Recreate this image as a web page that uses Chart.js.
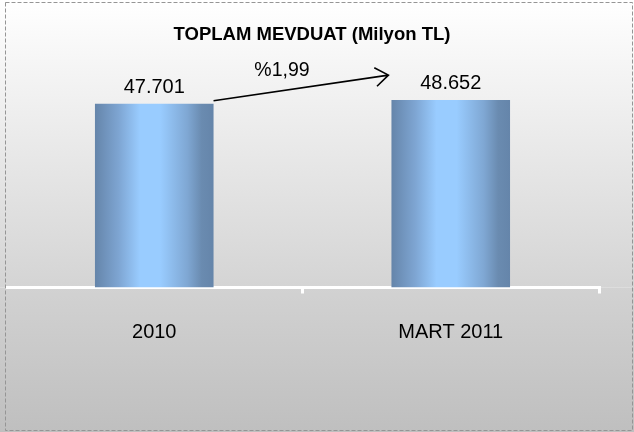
<!DOCTYPE html>
<html>
<head>
<meta charset="utf-8">
<script src="https://cdn.jsdelivr.net/npm/chart.js@4"></script>
<style>
  html, body { margin: 0; padding: 0; background: #fff; }
  #wrap { width: 634px; height: 432px; }
</style>
</head>
<body>
<div id="wrap"><canvas id="bar-chart" width="634" height="432"></canvas></div>
<script>
// chart data
const categories = ['2010', 'MART 2011'];
const deposits = [47701, 48652];
const changeLabel = '%1,99';
const chartTitle = 'TOPLAM MEVDUAT (Milyon TL)';

const sans = "'Liberation Sans', Arial, sans-serif";

// turkish thousands separator
function fmt(v) {
    return String(v).replace(/\B(?=(\d{3})+(?!\d))/g, '.');
}

// horizontal gradient for each bar, from the x scale
function barGradient(context) {
    const chart = context.chart;
    const xs = chart.scales.x;
    if (!xs || !chart.chartArea) return '#80aad8';
    const center = xs.getPixelForValue(context.dataIndex);
    const w = (xs.width / categories.length) * 0.4;
    const g = chart.ctx.createLinearGradient(center - w / 2, 0, center + w / 2, 0);
    g.addColorStop(0, '#6585aa');
    g.addColorStop(0.2, '#7ea5d2');
    g.addColorStop(0.38, '#99ccff');
    g.addColorStop(0.55, '#99ccff');
    g.addColorStop(0.78, '#7fa7d3');
    g.addColorStop(0.9, '#6a8bb0');
    g.addColorStop(1, '#6585aa');
    return g;
}

// background wall + floor
const backdrop = {
    id: 'backdrop',
    beforeDraw(chart) {
        const { ctx, width, height, chartArea } = chart;
        const b = chartArea.bottom;
        ctx.save();
        let g = ctx.createLinearGradient(0, 0, 0, b);
        g.addColorStop(0, '#ffffff');
        g.addColorStop(1, '#d4d4d4');
        ctx.fillStyle = g;
        ctx.fillRect(0, 0, width, b);
        g = ctx.createLinearGradient(0, b, 0, height);
        g.addColorStop(0, '#d2d2d2');
        g.addColorStop(1, '#bfbfbf');
        ctx.fillStyle = g;
        ctx.fillRect(0, b, width, height - b);
        ctx.restore();
    },
    afterDraw(chart) {
        const ctx = chart.ctx;
        ctx.save();
        ctx.strokeStyle = '#959595';
        ctx.lineWidth = 1;
        ctx.setLineDash([4, 2]);
        ctx.strokeRect(5.5, 2.5, 627, 428);
        ctx.restore();
    }
};

// value labels and the growth arrow
const annotate = {
    id: 'annotate',
    afterDatasetsDraw(chart) {
        const ctx = chart.ctx;
        const bars = chart.getDatasetMeta(0).data;
        ctx.save();
        ctx.fillStyle = '#000';
        ctx.font = '20px ' + sans;
        ctx.textAlign = 'center';
        ctx.textBaseline = 'alphabetic';
        bars.forEach((bar, i) => {
            ctx.fillText(fmt(deposits[i]), bar.x, bar.y - 11);
        });

        const a = bars[0], c = bars[1];
        const x1 = a.x + a.width / 2, y1 = a.y - 3;
        const x2 = c.x - c.width / 2 - 3, y2 = c.y - 25;
        ctx.strokeStyle = '#000';
        ctx.lineWidth = 1.6;
        ctx.beginPath();
        ctx.moveTo(x1, y1);
        ctx.lineTo(x2, y2);
        const ang = Math.atan2(y2 - y1, x2 - x1);
        const len = 16, spread = Math.PI / 5;
        ctx.moveTo(x2 - len * Math.cos(ang - spread), y2 - len * Math.sin(ang - spread));
        ctx.lineTo(x2, y2);
        ctx.lineTo(x2 - len * Math.cos(ang + spread), y2 - len * Math.sin(ang + spread));
        ctx.stroke();

        ctx.font = '19.5px ' + sans;
        ctx.textBaseline = 'middle';
        ctx.fillText(changeLabel, (x1 + x2) / 2 - 19, (y1 + y2) / 2 - 17);
        ctx.restore();
    }
};

const ctx = document.getElementById('bar-chart').getContext('2d');
new Chart(ctx, {
    type: 'bar',
    data: {
        labels: categories,
        datasets: [{
            data: deposits,
            backgroundColor: barGradient,
            borderWidth: 0,
            barPercentage: 0.4,
            categoryPercentage: 1
        }]
    },
    options: {
        responsive: false,
        animation: false,
        layout: { padding: { left: 0, right: 10, top: 0, bottom: 60.5 } },
        plugins: {
            legend: { display: false },
            tooltip: { enabled: false },
            title: {
                display: true,
                text: chartTitle,
                color: '#000',
                font: { family: sans, size: 18.5, weight: 'bold' },
                padding: { top: 24, bottom: 10.2 }
            }
        },
        scales: {
            x: {
                grid: {
                    offset: true,
                    drawOnChartArea: false,
                    drawTicks: true,
                    tickLength: 6,
                    lineWidth: 3,
                    color: c => c.index === 0 ? 'rgba(0,0,0,0)' : '#ffffff'
                },
                border: { display: true, color: '#ffffff', width: 3 },
                ticks: {
                    color: '#000',
                    padding: 27,
                    font: { family: sans, size: 20 }
                }
            },
            y: {
                min: 0,
                max: 60000,
                ticks: { display: false },
                grid: { display: false },
                border: { display: false },
                afterFit: s => { s.width = 6; }
            },
            y2: {
                position: 'right',
                min: 0,
                max: 1,
                ticks: { display: false },
                grid: { display: false },
                border: { display: false },
                afterFit: s => { s.width = 25; }
            }
        }
    },
    plugins: [backdrop, annotate]
});
</script>
</body>
</html>
